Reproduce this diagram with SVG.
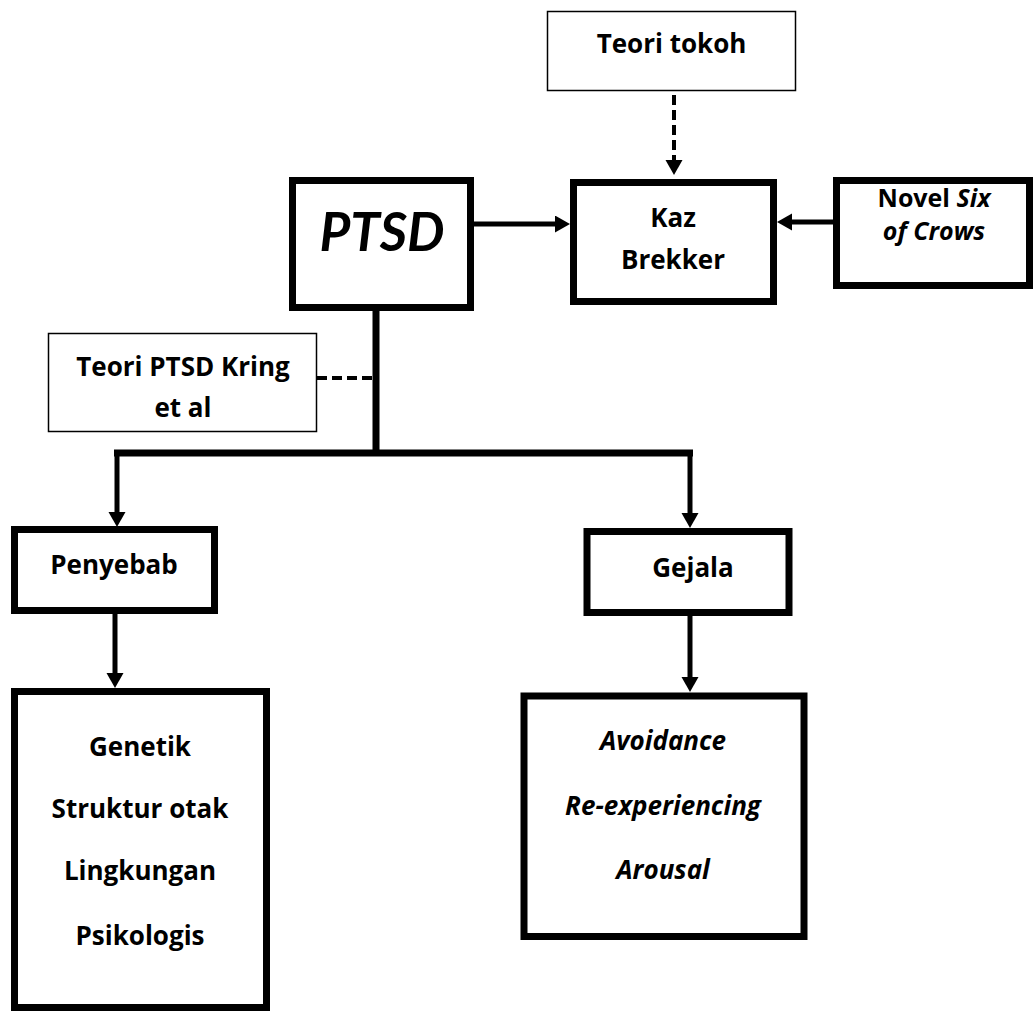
<svg xmlns="http://www.w3.org/2000/svg" width="1035" height="1012" viewBox="0 0 1035 1012">
<defs>
<style>
.thick{fill:#fff;stroke:#000;stroke-width:7}
.thin{fill:#fff;stroke:#000;stroke-width:1.5}
.t{font-family:"Open Sans","Noto Sans","Liberation Sans",sans-serif;font-weight:bold;font-size:26px;fill:#000;text-anchor:middle;font-variant-ligatures:none}
.big{font-family:Lato,"Open Sans",sans-serif;font-size:53px}
.sm{font-size:25px}
.i{font-style:italic}
.c{fill:none;stroke:#000;stroke-width:5}
.trunk{fill:none;stroke:#000;stroke-width:7}
.d{fill:none;stroke:#000;stroke-width:4;stroke-dasharray:10 5}
</style>
<marker id="ah" markerUnits="userSpaceOnUse" markerWidth="16" markerHeight="18" refX="5" refY="8.5" orient="auto">
<path d="M0,0 L15,8.5 L0,17 z" fill="#000"/>
</marker>
</defs>
<g id="connectors">
<line class="d" x1="674" y1="95" x2="674" y2="165" marker-end="url(#ah)"/>
<line class="c" x1="474" y1="224" x2="560" y2="224" marker-end="url(#ah)"/>
<line class="c" x1="833" y1="222" x2="787" y2="222" marker-end="url(#ah)"/>
<path class="trunk" d="M376,311 V453 M114,453 H693"/>
<line class="c" x1="117" y1="453" x2="117" y2="517" marker-end="url(#ah)"/>
<line class="c" x1="690" y1="453" x2="690" y2="518" marker-end="url(#ah)"/>
<line class="c" x1="115" y1="614" x2="115" y2="678" marker-end="url(#ah)"/>
<line class="c" x1="690" y1="616" x2="690" y2="682" marker-end="url(#ah)"/>
<line class="d" x1="317" y1="378" x2="373" y2="378"/>
</g>
<g id="teori-tokoh">
<rect class="thin" x="547.5" y="11.5" width="248" height="79"/>
<text class="t" x="671.5" y="53">Teori tokoh</text>
</g>
<g id="ptsd">
<rect class="thick" x="292.5" y="180.5" width="178" height="127"/>
<text class="t i big" x="382" y="251">PTSD</text>
</g>
<g id="kaz-brekker">
<rect class="thick" x="573.5" y="182.5" width="200" height="119"/>
<text class="t" x="673" y="227">Kaz</text>
<text class="t" x="673" y="269">Brekker</text>
</g>
<g id="novel">
<rect class="thick" x="836.5" y="180.5" width="193" height="105"/>
<text class="t sm" x="934" y="207">Novel <tspan class="i">Six</tspan></text>
<text class="t sm i" x="934" y="240">of Crows</text>
</g>
<g id="teori-ptsd">
<rect class="thin" x="48.5" y="333.5" width="268" height="98"/>
<text class="t" x="183" y="376">Teori PTSD Kring</text>
<text class="t" x="183" y="417">et al</text>
</g>
<g id="penyebab">
<rect class="thick" x="14.5" y="529.5" width="200" height="81"/>
<text class="t" x="114" y="574">Penyebab</text>
</g>
<g id="gejala">
<rect class="thick" x="587" y="531.5" width="202" height="81"/>
<text class="t" x="693" y="577">Gejala</text>
</g>
<g id="penyebab-list">
<rect class="thick" x="14.5" y="691.5" width="252" height="316"/>
<text class="t" x="140" y="756">Genetik</text>
<text class="t" x="140" y="818">Struktur otak</text>
<text class="t" x="140" y="880">Lingkungan</text>
<text class="t" x="140" y="945">Psikologis</text>
</g>
<g id="gejala-list">
<rect class="thick" x="524" y="696" width="280" height="240.5"/>
<text class="t i" x="663" y="750">Avoidance</text>
<text class="t i" x="663" y="815">Re-experiencing</text>
<text class="t i" x="663" y="879">Arousal</text>
</g>
</svg>
